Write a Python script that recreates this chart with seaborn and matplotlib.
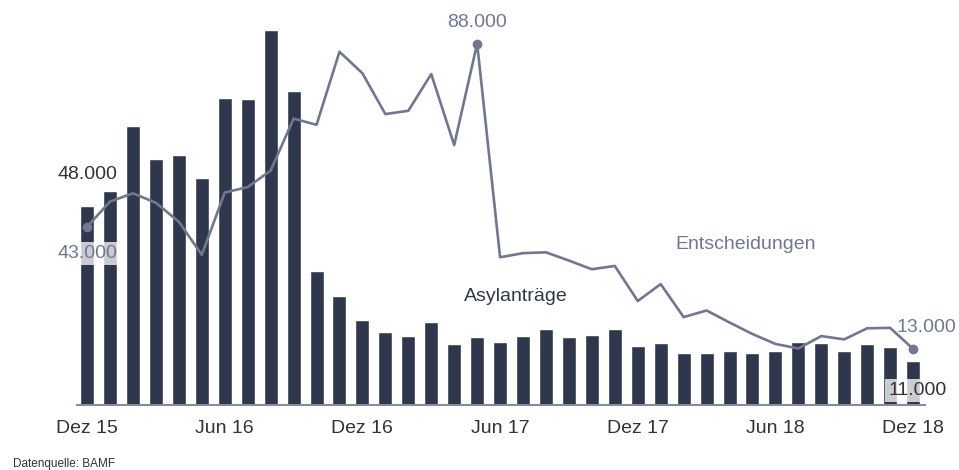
import numpy as np
import pandas as pd
import matplotlib
matplotlib.use("Agg")
import matplotlib.pyplot as plt
import seaborn as sns

# Monatswerte (in Tausend), Dez 15 bis Dez 18
monate = ["Dez 15", "Jan 16", "Feb 16", "Mär 16", "Apr 16", "Mai 16", "Jun 16",
          "Jul 16", "Aug 16", "Sep 16", "Okt 16", "Nov 16", "Dez 16",
          "Jan 17", "Feb 17", "Mär 17", "Apr 17", "Mai 17", "Jun 17",
          "Jul 17", "Aug 17", "Sep 17", "Okt 17", "Nov 17", "Dez 17",
          "Jan 18", "Feb 18", "Mär 18", "Apr 18", "Mai 18", "Jun 18",
          "Jul 18", "Aug 18", "Sep 18", "Okt 18", "Nov 18", "Dez 18"]

asylantraege = [48.2, 51.8, 67.5, 59.6, 60.6, 54.9, 74.3, 74.1, 90.9, 76.1,
                32.4, 26.4, 20.5, 17.8, 16.7, 20.0, 14.8, 16.5, 15.3, 16.7,
                18.5, 16.5, 17.0, 18.5, 14.2, 15.0, 12.5, 12.5, 13.2, 12.5,
                13.2, 15.3, 15.0, 13.0, 14.7, 14.1, 10.6]

entscheidungen = [43.2, 49.3, 51.3, 49.0, 44.4, 36.4, 51.5, 52.8, 56.8, 69.4,
                  67.9, 85.6, 80.4, 70.5, 71.3, 80.2, 63.0, 87.6, 35.8, 36.8,
                  37.0, 35.0, 32.9, 33.7, 25.2, 29.3, 21.3, 22.9, 20.0, 17.2,
                  14.8, 13.7, 16.7, 15.9, 18.6, 18.7, 13.6]

tick_labels = ["Dez 15", "Jun 16", "Dez 16", "Jun 17", "Dez 17", "Jun 18", "Dez 18"]

bar_col = "#2f374c"
line_col = "#6f7890"
txt_col = "#333333"
fs = 14

sns.set_theme(style="white")
plt.rcParams["font.family"] = ["Liberation Sans", "DejaVu Sans"]

df = pd.DataFrame({"monat": monate, "asyl": asylantraege,
                   "ent": entscheidungen, "pos": np.arange(len(monate))})

fig = plt.figure(figsize=(9.59, 4.70), dpi=100)
ax = fig.add_axes([77 / 959, 65 / 470, 848 / 959, 385 / 470])

sns.barplot(data=df, x="monat", y="asyl", color=bar_col, width=0.61,
            saturation=1, ax=ax, zorder=2)
sns.lineplot(data=df, x="pos", y="ent", color=line_col, linewidth=1.9,
             ax=ax, zorder=3)

ax.set_xlim(-0.44, len(monate) - 1 + 0.52)
ax.set_ylim(0, 93.3)
ax.set_xlabel("")
ax.set_ylabel("")
ax.set_yticks([])
ax.set_xticks(range(0, len(monate), 6))
ax.set_xticklabels(tick_labels, fontsize=fs, color=txt_col)
ax.tick_params(axis="x", length=0, pad=11)
for s in ["top", "right", "left"]:
    ax.spines[s].set_visible(False)
ax.spines["bottom"].set_color("#888c96")
ax.spines["bottom"].set_linewidth(1.5)

# markierte Punkte
last = len(monate) - 1
peak = int(np.argmax(entscheidungen))
for i in [0, peak, last]:
    ax.plot(i, entscheidungen[i], "o", color=line_col, markersize=6, zorder=4)

# halbtransparenter weisser Kasten: nur auf den Balken sichtbar
box = dict(boxstyle="square,pad=0.15", facecolor="white", alpha=0.75,
           edgecolor="none")


def label(txt, xy, off, col, ha="center", boxed=False):
    ax.annotate(txt, xy, xytext=off, textcoords="offset points", ha=ha,
                va="center", fontsize=fs, color=col, zorder=6,
                bbox=box if boxed else None, annotation_clip=False)


label("48.000", (0, asylantraege[0]), (0.5, 22.5), txt_col)
label("43.000", (0, entscheidungen[0]), (0, -19), line_col, boxed=True)
label("88.000", (peak, entscheidungen[peak]), (0, 15), line_col)
label("13.000", (last, entscheidungen[last]), (-12, 15.5), line_col, ha="left")
label("11.000", (last, 0), (3, 10.5), txt_col, boxed=True)

ax.text(28.7, 38.8, "Entscheidungen", fontsize=fs, color=line_col,
        ha="center", va="center")
ax.text(18.7, 26.2, "Asylanträge", fontsize=fs, color=bar_col,
        ha="center", va="center")

fig.text(13 / 959, 1 - 464 / 470, "Datenquelle: BAMF", fontsize=8.5,
         color=txt_col, ha="left", va="center")

fig.savefig("out.png", dpi=100)
